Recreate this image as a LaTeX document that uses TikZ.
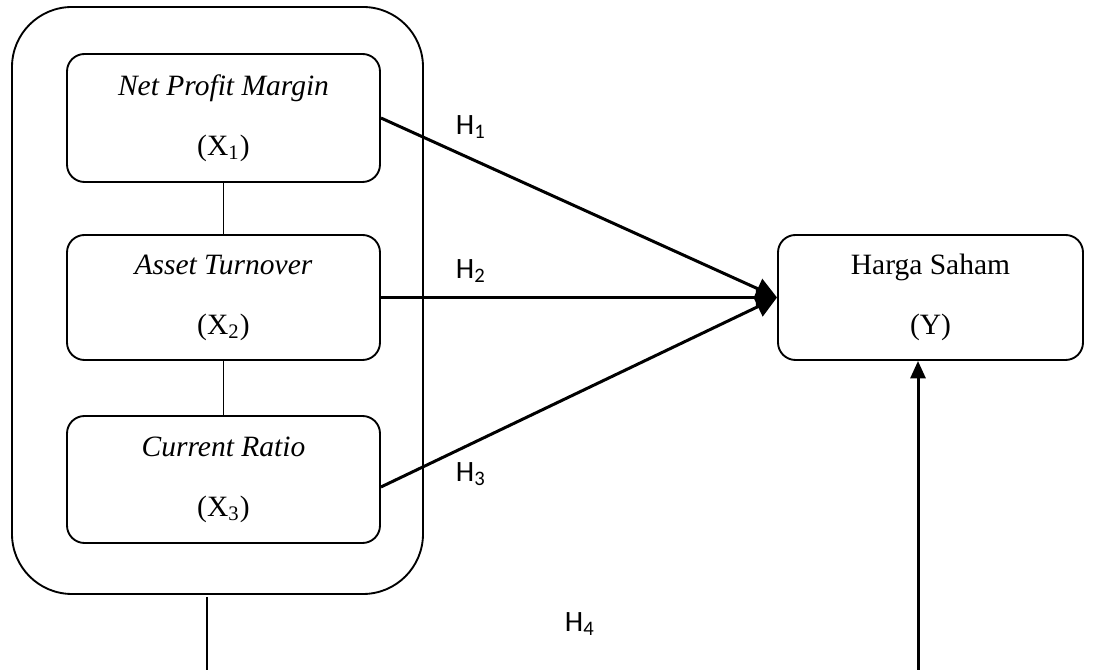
\documentclass[tikz,border=0pt]{standalone}
\usepackage{fontspec}
\setmainfont{Liberation Serif}
\newfontfamily\hfont{Carlito}
\usepackage{tikz}
\usetikzlibrary{arrows,arrows.meta}
\usetikzlibrary{positioning}
\usetikzlibrary{calc}
\tikzset{
    varbox/.style={draw=black, line width=0.75pt, rounded corners=7pt,
        minimum width=125.2pt, align=center, inner sep=0pt,
        font=\fontsize{11.8}{14}\selectfont},
    groupbox/.style={draw=black, line width=0.75pt, rounded corners=24pt},
    link/.style={draw=black, line width=0.6pt},
    hypo/.style={draw=black, line width=1.2pt,
        -{Triangle[length=8.5pt,width=8.5pt]}},
    hypoup/.style={draw=black, line width=1.2pt,
        -{Triangle[length=7pt,width=6pt]}},
    hlabel/.style={font=\hfont\fontsize{11.8}{13}\selectfont},
}

\begin{document}
\begin{tikzpicture}[x=0.4pt, y=-0.4pt]
	\useasboundingbox (0,0) rectangle (1093,670);
	% independent variables
	\draw[groupbox] (12,7) rectangle (423,594);
	\node[varbox, minimum height=51.2pt] (npm) at (223.5,118)
		{\textit{Net Profit Margin}\\[10pt](X\textsubscript{1})};
	\node[varbox, minimum height=50pt] (at) at (223.5,297.5)
		{\textit{Asset Turnover}\\[10pt](X\textsubscript{2})};
	\node[varbox, minimum height=50.8pt] (cr) at (223.5,479.5)
		{\textit{Current Ratio}\\[10pt](X\textsubscript{3})};
	% dependent variable
	\node[varbox, minimum width=122pt, minimum height=50pt] (hs) at (930.5,297.5)
		{Harga Saham\\[10pt](Y)};
	%
	\draw[link] (npm) -- (at);
	\draw[link] (at) -- (cr);
	%
	\draw[hypo] (npm.east) -- (hs.west);
	\draw[hypo] (at.east) -- (hs.west);
	\draw[hypo] ([yshift=-3pt]cr.east) -- (hs.west);
	%
	\coordinate (grp) at (207,597);
	\coordinate (grpend) at (207,670);
	\coordinate (simend) at (918,670);
	\draw[link] (grp) -- (grpend);
	\draw[hypoup] (simend) -- (hs.south -| simend);
	%
	\node[hlabel] (h1) at (471,127) {H\textsubscript{1}};
	\node[hlabel] (h2) at (471,271) {H\textsubscript{2}};
	\node[hlabel] (h3) at (471,474) {H\textsubscript{3}};
	\node[hlabel] (h4) at (580,624) {H\textsubscript{4}};
\end{tikzpicture}
\end{document}
